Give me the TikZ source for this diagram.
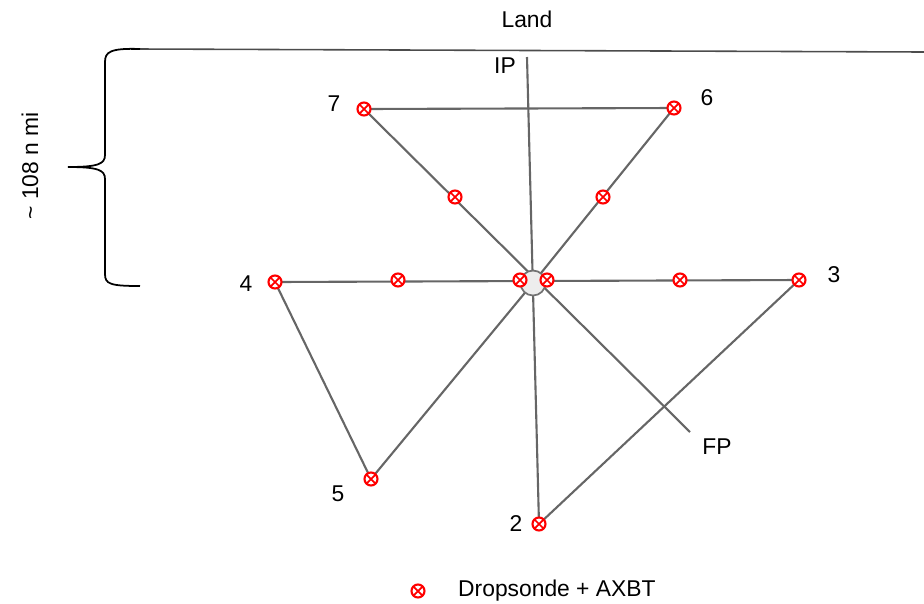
\documentclass[tikz,border=0pt]{standalone}
\usepackage{fontspec}
\setmainfont{Liberation Sans}
\usetikzlibrary{positioning}

\tikzset{
    track/.style={black!60, line width=1.2pt},
    sonde/.style={circle, draw=red, fill=white, line width=1.2pt, inner sep=0pt,
        minimum size=0.26cm,
        path picture={\draw[red, line width=1pt]
            (path picture bounding box.north west) -- (path picture bounding box.south east)
            (path picture bounding box.north east) -- (path picture bounding box.south west);}},
    lbl/.style={font=\fontsize{13}{15}\selectfont}
}

\begin{document}
\begin{tikzpicture}[x=0.02cm, y=-0.02cm]
    \useasboundingbox (0,0) rectangle (924,603);

    % Turning points of the pattern
    \coordinate (c7) at (364,109);
    \coordinate (c6) at (674,108);
    \coordinate (c4) at (275,282);
    \coordinate (c3) at (799,280);
    \coordinate (c5) at (371,479);
    \coordinate (c2) at (539,524);
    \coordinate (ctr) at (533,283);
    \coordinate (ip) at (527,57);
    \coordinate (fp) at (690,432);
    \coordinate (landW) at (140,49);
    \coordinate (landE) at (924,52);

    % Coast line and brace
    \draw[black!70, line width=0.9pt] (landW) -- (landE);
    \draw[line width=1pt] (landW) .. controls (110,48) and (105,52) .. (105,62) -- (105,155)
        .. controls (105,164) and (98,167) .. (68,167)
        .. controls (98,167) and (105,170) .. (105,179) -- (105,274)
        .. controls (105,284) and (110,286) .. (140,286);

    % Flight legs
    \draw[track] (c7) -- (c6);
    \draw[track] (c4) -- (c3);
    \draw[track] (ip) -- (c2);
    \draw[track] (c7) -- (fp);
    \draw[track] (c6) -- (ctr);
    \draw[track] (c4) -- (c5);
    \draw[track] (c5) -- (ctr);
    \draw[track] (c3) -- (c2);

    % Storm centre
    \node[circle, draw=black!55, fill=black!7, line width=1pt, minimum size=0.5cm] (eye) at (ctr) {};

    % Drop points
    \node[sonde] (s7) at (c7) {};
    \node[sonde] (s6) at (c6) {};
    \node[sonde] (s4) at (c4) {};
    \node[sonde] (s3) at (c3) {};
    \node[sonde] (s5) at (c5) {};
    \node[sonde] (s2) at (c2) {};
    \node[sonde] (m76) at (455,197) {};
    \node[sonde] (m66) at (603,197) {};
    \node[sonde] (m44) at (398,280) {};
    \node[sonde] (m33) at (680,280) {};
    \node[sonde] (eyeW) at (520,280) {};
    \node[sonde] (eyeE) at (547,280) {};

    % Labels
    \node[lbl] (land) at (527,19) {Land};
    \node[lbl] (ipl) at (505,66) {IP};
    \node[lbl] (fpl) at (717,447) {FP};
    \node[lbl] (n7) at (334,104) {7};
    \node[lbl] (n6) at (707,98) {6};
    \node[lbl] (n4) at (246,284) {4};
    \node[lbl] (n3) at (834,275) {3};
    \node[lbl] (n5) at (338,494) {5};
    \node[lbl] (n2) at (516,524) {2};
    \node[lbl, rotate=90] (dist) at (30,166) {\textasciitilde{} 108 n mi};

    % Legend
    \node[sonde] (key) at (418,591) {};
    \node[lbl, anchor=west] (keytxt) at (452,591) {Dropsonde + AXBT};
\end{tikzpicture}
\end{document}
